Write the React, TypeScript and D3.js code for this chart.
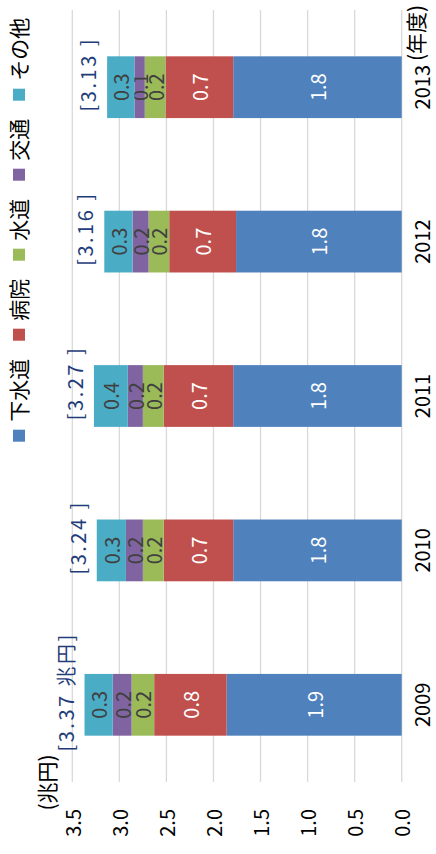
import React from "react";
import * as d3 from "d3";

const years = ["2009", "2010", "2011", "2012", "2013"];
const seriesNames = ["下水道", "病院", "水道", "交通", "その他"];
const colors = ["#4F81BD", "#C0504D", "#9BBB59", "#8064A2", "#4BACC6"];
const labelColors = ["#ffffff", "#ffffff", "#404040", "#404040", "#404040"];
const sewer = [1.86, 1.79, 1.79, 1.76, 1.79];
const hospital = [0.77, 0.74, 0.74, 0.71, 0.72];
const water = [0.24, 0.22, 0.22, 0.22, 0.22];
const transport = [0.2, 0.18, 0.16, 0.17, 0.11];
const other = [0.3, 0.31, 0.36, 0.3, 0.29];
const ticks = [0, 0.5, 1, 1.5, 2, 2.5, 3, 3.5];
const totalUnit = [" 兆円", " ", " ", " ", " "];

const FONT = "'Noto Sans CJK JP', 'Noto Sans', sans-serif";

export default function App() {
  const series = [sewer, hospital, water, transport, other];
  const rows = years.map((y, i) => {
    const r: any = { year: y };
    seriesNames.forEach((n, k) => (r[n] = series[k][i]));
    return r;
  });
  const stack = d3.stack().keys(seriesNames)(rows);

  const x = d3.scaleBand().domain(years).range([72, 844]).paddingInner(0.6).paddingOuter(0.3);
  const yS = d3.scaleLinear().domain([0, 3.5]).range([401.7, 72.3]);

  const legendItems: { name: string; color: string; x: number }[] = [];
  let lx = 412.3;
  seriesNames.forEach((n, k) => {
    legendItems.push({ name: n, color: colors[k], x: lx });
    lx += 12 + 8 + n.length * 21 + 18;
  });

  return (
    <svg
      width={436}
      height={854}
      style={{ position: "absolute", left: 0, top: 0, background: "#fff" }}
      fontFamily={FONT}
    >
      <rect width={436} height={854} fill="#fff" />
      <g transform={`translate(0,854) rotate(-90)`}>
        {ticks.map((t) => (
          <line
            key={t}
            x1={72}
            x2={844}
            y1={yS(t)}
            y2={yS(t)}
            stroke="#d9d9d9"
            strokeWidth={1.3}
          />
        ))}
        {ticks.map((t) => (
          <text
            key={"t" + t}
            x={45}
            y={yS(t)}
            textAnchor="end"
            dominantBaseline="central"
            fontSize={20}
            fill="#000"
          >
            {t.toFixed(1)}
          </text>
        ))}
        {stack.map((s, k) => (
          <g key={s.key}>
            {s.map((d, i) => {
              const y0 = yS(d[0]);
              const y1 = yS(d[1]);
              const bx = x(years[i]) as number;
              return (
                <g key={i}>
                  <rect x={bx} y={y1} width={x.bandwidth()} height={y0 - y1} fill={colors[k]} />
                  <text
                    x={bx + x.bandwidth() / 2}
                    y={(y0 + y1) / 2}
                    textAnchor="middle"
                    dominantBaseline="central"
                    fontSize={20}
                    fill={labelColors[k]}
                  >
                    {(d[1] - d[0]).toFixed(1)}
                  </text>
                </g>
              );
            })}
          </g>
        ))}
        {years.map((yr, i) => {
          const total = series.reduce((a, s) => a + s[i], 0);
          const bx = (x(yr) as number) + x.bandwidth() / 2;
          return (
            <text
              key={"tot" + yr}
              x={bx + 13}
              y={yS(total) - 11}
              textAnchor="middle"
              fontSize={20}
              letterSpacing={2.5}
              fill="#1F3D7A"
            >
              {"[" + total.toFixed(2) + totalUnit[i] + "]"}
            </text>
          );
        })}
        {years.map((yr) => (
          <text
            key={"c" + yr}
            x={(x(yr) as number) + x.bandwidth() / 2}
            y={430}
            textAnchor="middle"
            fontSize={20}
            fill="#000"
          >
            {yr}
          </text>
        ))}
        <text x={71.5} y={46} textAnchor="middle" dominantBaseline="central" fontSize={21} fill="#000">
          (兆円)
        </text>
        <text x={821} y={414.5} textAnchor="middle" dominantBaseline="central" fontSize={21} fill="#000">
          (年度)
        </text>
        {legendItems.map((it) => (
          <g key={it.name}>
            <rect x={it.x} y={13} width={12} height={12} fill={it.color} />
            <text x={it.x + 20} y={18} dominantBaseline="central" fontSize={21} fill="#000">
              {it.name}
            </text>
          </g>
        ))}
      </g>
    </svg>
  );
}
